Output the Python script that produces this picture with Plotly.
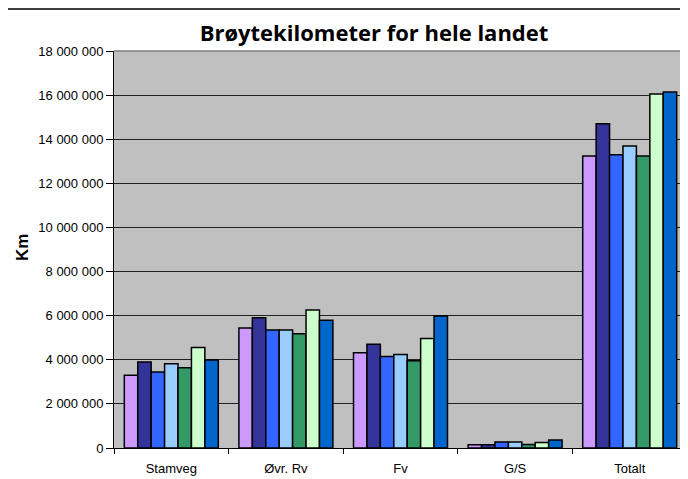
import plotly.graph_objects as go

categories = ["Stamveg", "Øvr. Rv", "Fv", "G/S", "Totalt"]
series_names = ["Serie 1", "Serie 2", "Serie 3", "Serie 4", "Serie 5", "Serie 6", "Serie 7"]
s1 = [3300000, 5440000, 4320000, 150000, 13240000]
s2 = [3900000, 5910000, 4700000, 150000, 14700000]
s3 = [3450000, 5350000, 4150000, 270000, 13300000]
s4 = [3820000, 5350000, 4240000, 270000, 13690000]
s5 = [3640000, 5180000, 3960000, 160000, 13240000]
s6 = [4560000, 6260000, 4970000, 250000, 16050000]
s7 = [3990000, 5790000, 5980000, 360000, 16140000]
series_values = [s1, s2, s3, s4, s5, s6, s7]
colors = ["#CC99FF", "#333399", "#3366FF", "#99CCFF", "#339966", "#CCFFCC", "#0066CC"]
y_ticks = [0, 2000000, 4000000, 6000000, 8000000, 10000000, 12000000, 14000000, 16000000, 18000000]

fig = go.Figure()
for name, vals, c in zip(series_names, series_values, colors):
    fig.add_trace(go.Bar(x=categories, y=vals, name=name,
                         marker=dict(color=c, line=dict(color="black", width=1.5))))

# page body has an 8px margin, so positions are measured 8px up/left
OFF = 8
W, H = 688 - OFF, 479 - OFF
L, T = 114 - OFF, 51 - OFF
B = H - (448 - OFF)
R = 1
pw, ph = W - L - R, H - T - B

fig.update_layout(
    width=W, height=H,
    margin=dict(l=L, r=R, t=T, b=B, pad=0, autoexpand=False),
    paper_bgcolor="white",
    plot_bgcolor="#C0C0C0",
    barmode="group",
    bargap=0.18,
    bargroupgap=0,
    showlegend=False,
    separators=", ",
    font=dict(family="Liberation Sans, Arial, sans-serif", color="black", size=13),
    title=dict(text="<b>Brøytekilometer for hele landet</b>", x=(374 - OFF) / W, xref="container",
               xanchor="center", y=1 - (33 - OFF) / H, yref="container", yanchor="middle",
               font=dict(family="Open Sans, Liberation Sans, sans-serif", size=22, color="black")),
    xaxis=dict(showgrid=False, showline=True, linecolor="black", linewidth=1, automargin=False,
               ticks="outside", ticklen=5, tickcolor="black", tickson="boundaries",
               ticklabelstandoff=8, tickfont=dict(size=13), fixedrange=True),
    yaxis=dict(range=[0, 18000000], tickvals=y_ticks, tickformat=",d", automargin=False,
               showgrid=True, gridcolor="#222222", gridwidth=1,
               showline=True, linecolor="black", linewidth=1, zeroline=False,
               ticks="outside", ticklen=7, tickcolor="black", tickfont=dict(size=13)),
    annotations=[dict(text="<b>Km</b>", xref="paper", yref="paper",
                      x=(22 - OFF - L) / pw, y=1 - (248 - OFF - T) / ph,
                      xanchor="center", yanchor="middle",
                      showarrow=False, textangle=-90,
                      font=dict(family="Liberation Sans, Arial", size=17, color="black"))],
    shapes=[
        dict(type="rect", xref="paper", yref="paper", x0=(4 - OFF - L) / pw, x1=(W + 10 - L) / pw,
             y0=1 - (H + 10 - T) / ph, y1=1 - (8 - OFF + 1 - T) / ph,
             line=dict(color="black", width=1.5), layer="above"),
        dict(type="line", xref="paper", yref="paper", x0=0, x1=1, y0=1, y1=1,
             line=dict(color="#808080", width=1.5)),
    ],
)
fig.write_html("out.html")
